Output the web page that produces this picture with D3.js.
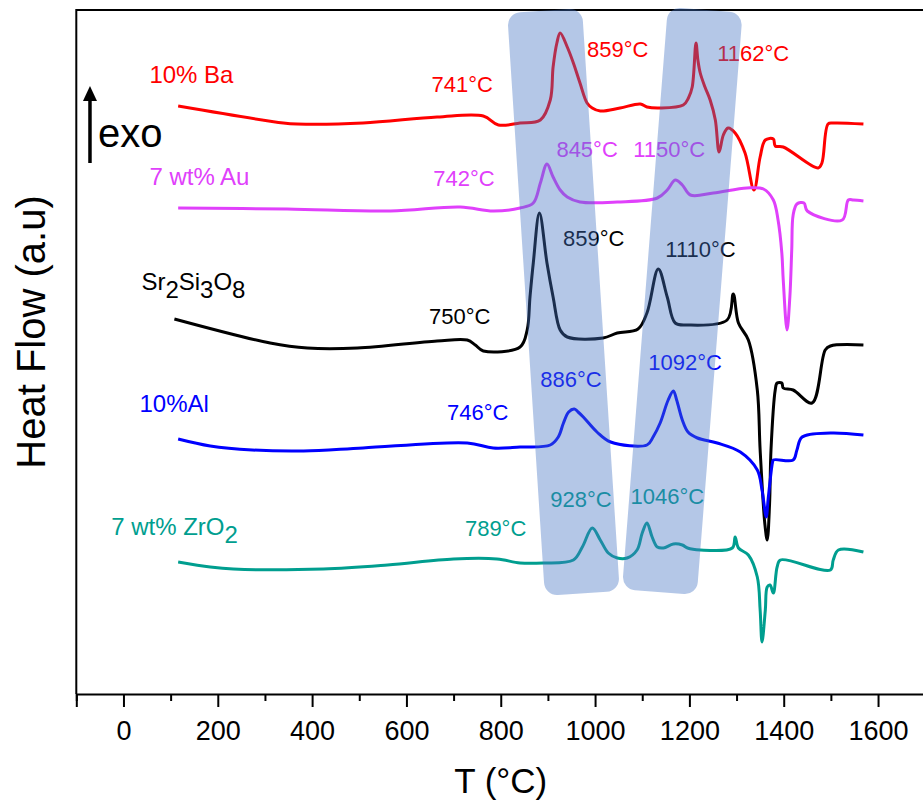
<!DOCTYPE html>
<html>
<head>
<meta charset="utf-8">
<script src="https://cdn.jsdelivr.net/npm/d3@7"></script>
<style>
  body { margin: 0; background: #fff; }
  svg { display: block; font-family: "Liberation Sans", Arial, sans-serif; }
</style>
</head>
<body>
<svg width="923" height="802"></svg>
<script>
// DSC traces: [T (°C), heat flow (a.u., stacked offsets)]
let ba = [[116,58.8],[339,57.1],[368,57.0],[508,57.1],[665,57.7],[763,57.8],[795,56.9],[841,57.1],[884,57.4],[905,59.4],[911,62.7],[919,65.1],[926,66.1],[941,64.7],[954,63.1],[968,61.1],[983,59.1],[994,58.6],[1011,58.3],[1053,58.6],[1096,59.0],[1110,58.7],[1138,58.6],[1187,58.9],[1198,59.6],[1206,60.7],[1214,65.1],[1218,63.4],[1223,62.1],[1233,60.7],[1244,59.4],[1255,57.4],[1263,54.2],[1272,55.9],[1282,56.6],[1297,56.1],[1318,54.1],[1337,50.4],[1350,53.7],[1361,55.4],[1378,55.5],[1382,54.8],[1399,54.7],[1473,52.6],[1481,53.1],[1494,57.0],[1505,57.1],[1569,57.0]];
let au = [[116,48.6],[347,48.5],[566,48.3],[714,48.7],[784,48.3],[841,48.6],[869,49.1],[884,51.1],[898,53.0],[911,51.7],[926,50.4],[941,49.7],[968,49.2],[1047,49.2],[1132,49.6],[1153,50.4],[1170,51.4],[1185,50.9],[1202,49.9],[1251,50.1],[1322,50.6],[1357,50.5],[1378,49.4],[1388,47.4],[1396,44.1],[1399,41.4],[1407,36.4],[1413,39.7],[1417,44.4],[1420,47.9],[1428,49.0],[1443,49.1],[1450,48.3],[1524,47.4],[1537,49.4],[1548,49.4],[1569,49.3]];
let sr = [[108,37.5],[311,35.1],[390,34.6],[496,34.6],[665,35.3],[729,35.4],[746,34.9],[763,34.3],[841,34.7],[856,36.4],[862,39.7],[869,43.1],[882,48.1],[898,43.1],[911,39.7],[926,36.4],[941,35.7],[1017,35.6],[1047,36.1],[1091,36.5],[1110,38.1],[1134,42.5],[1153,39.7],[1170,37.1],[1196,36.9],[1280,37.4],[1293,40.0],[1304,37.1],[1325,35.4],[1344,30.4],[1350,24.4],[1360,17.0],[1365,15.4],[1370,19.0],[1373,24.4],[1382,30.4],[1386,31.1],[1396,31.1],[1399,30.6],[1420,30.4],[1460,29.1],[1488,34.4],[1499,34.8],[1569,34.9]];
let al = [[116,25.5],[184,24.8],[273,24.4],[382,24.3],[508,24.6],[729,25.1],[784,24.6],[841,24.7],[905,24.9],[922,25.7],[933,27.1],[944,28.2],[956,28.5],[964,28.2],[975,27.7],[1004,26.2],[1033,25.2],[1110,24.9],[1123,25.7],[1138,27.1],[1155,29.4],[1166,30.3],[1173,29.4],[1185,27.4],[1197,26.2],[1217,25.6],[1259,25.1],[1308,24.2],[1344,22.4],[1354,20.4],[1363,17.7],[1367,19.5],[1376,23.1],[1378,23.4],[1420,23.4],[1428,24.4],[1439,25.7],[1499,26.1],[1569,25.9]];
let zr = [[116,13.2],[184,12.7],[233,12.5],[424,12.5],[560,12.9],[700,13.5],[792,13.5],[841,13.1],[890,13.1],[954,13.4],[973,14.7],[994,16.6],[1011,15.4],[1028,14.1],[1047,13.6],[1068,13.6],[1089,14.4],[1100,16.1],[1110,17.1],[1121,15.7],[1132,14.7],[1145,14.6],[1166,15.0],[1185,14.9],[1196,14.6],[1223,14.4],[1291,14.6],[1297,15.7],[1304,14.6],[1325,13.9],[1344,11.7],[1350,8.4],[1354,5.2],[1361,8.4],[1365,10.7],[1371,10.9],[1378,10.1],[1386,12.7],[1393,13.4],[1499,12.4],[1505,13.4],[1516,14.4],[1569,14.2]];

let seriesKeys = ["ba", "au", "sr", "al", "zr"];
let seriesData = { ba: ba, au: au, sr: sr, al: al, zr: zr };
let seriesNames = ["10% Ba", "7 wt% Au", "Sr2Si3O8", "10%Al", "7 wt% ZrO2"];
// where each sample name sits (T, a.u.)
let nameAt = [[55, 61.1], [55, 50.9], [38, 40.4], [34, 28.2], [-26, 15.9]];

// peak temperature annotations: [series, text, T, a.u.]
let tempLabels = [
  ["ba", "741°C", 653, 60.2], ["ba", "859°C", 983, 63.7], ["ba", "1162°C", 1259, 63.3],
  ["au", "742°C", 657, 50.8], ["au", "845°C", 918, 53.7], ["au", "1150°C", 1081, 53.7],
  ["sr", "750°C", 648, 37.0], ["sr", "859°C", 932, 44.8], ["sr", "1110°C", 1149, 43.7],
  ["al", "746°C", 686, 27.4], ["al", "886°C", 884, 30.7], ["al", "1092°C", 1113, 32.4],
  ["zr", "789°C", 724, 15.8], ["zr", "928°C", 905, 18.7], ["zr", "1046°C", 1075, 19.0]
];

// highlighted crystallisation windows: centre T, centre a.u., tilt (deg)
let bandT = [933, 1185];
let bandV = [39.2, 39.3];
let bandTilt = [-3.7, 4.5];

let xTicks = [0, 200, 400, 600, 800, 1000, 1200, 1400, 1600];
let xMinor = [-100, 100, 300, 500, 700, 900, 1100, 1300, 1500, 1700];

let colors = { ba: "#ff0000", au: "#e040fb", sr: "#000000", al: "#0000ff", zr: "#009e8f" };

let svg = d3.select("svg");
let x = d3.scaleLinear().domain([-100, 1700]).range([76.3, 925.2]);
let y = d3.scaleLinear().domain([0, 68.4]).range([694, 10]);

// frame (right side falls off the picture)
svg.append("path")
  .attr("d", `M${x(-100)},${y(0)}V${y(68.4)}H923`)
  .attr("fill", "none").attr("stroke", "#000").attr("stroke-width", 2);

// x axis
let xAxis = svg.append("g")
  .attr("transform", `translate(0,${y(0)})`)
  .call(d3.axisBottom(x).tickValues(xTicks).tickSize(13).tickPadding(14).tickFormat(d3.format("d")));
xAxis.select(".domain").attr("stroke-width", 2);
xAxis.selectAll(".tick line").attr("stroke-width", 2);
xAxis.selectAll(".tick text").attr("font-size", 27).attr("font-family", "Liberation Sans, Arial, sans-serif");

let xMinorAxis = svg.append("g")
  .attr("transform", `translate(0,${y(0)})`)
  .call(d3.axisBottom(x).tickValues(xMinor).tickSize(7).tickFormat(""));
xMinorAxis.select(".domain").remove();
xMinorAxis.selectAll(".tick line").attr("stroke-width", 2);

svg.append("text")
  .attr("x", x(800)).attr("y", 793)
  .attr("text-anchor", "middle").attr("font-size", 35)
  .text("T (°C)");

svg.append("text")
  .attr("transform", `translate(45,${y(34.2) - 20}) rotate(-90)`)
  .attr("text-anchor", "middle").attr("font-size", 40)
  .text("Heat Flow (a.u)");

// traces
let line = d3.line()
  .curve(d3.curveCatmullRom.alpha(0.5))
  .x(d => x(d[0]))
  .y(d => y(d[1]));

svg.append("g").selectAll("path")
  .data(seriesKeys)
  .join("path")
  .attr("d", k => line(seriesData[k]))
  .attr("fill", "none")
  .attr("stroke", k => colors[k])
  .attr("stroke-width", 3)
  .attr("stroke-linejoin", "round");

// sample names, digits after a letter become subscripts
seriesKeys.forEach((k, i) => {
  let t = svg.append("text")
    .attr("x", x(nameAt[i][0])).attr("y", y(nameAt[i][1]))
    .attr("font-size", 24).attr("fill", colors[k]);
  let parts = seriesNames[i].split(/(?<=[A-Za-z])(\d+)/);
  parts.forEach((p, j) => {
    if (!p) return;
    if (j % 2 === 1) {
      t.append("tspan").attr("dy", 8).text(p);
    } else {
      t.append("tspan").attr("dy", j > 0 ? -8 : 0).text(p);
    }
  });
});

svg.append("g").selectAll("text")
  .data(tempLabels)
  .join("text")
  .attr("x", d => x(d[2]))
  .attr("y", d => y(d[3]))
  .attr("font-size", 22)
  .attr("fill", d => colors[d[0]])
  .text(d => d[1]);

// shaded bands go over the traces
svg.append("g").selectAll("rect")
  .data(bandT)
  .join("rect")
  .attr("x", -37.5).attr("y", -292)
  .attr("width", 75).attr("height", 584)
  .attr("rx", 13)
  .attr("transform", (d, i) => `translate(${x(d)},${y(bandV[i])}) rotate(${bandTilt[i]})`)
  .attr("fill", "#4472c4")
  .attr("fill-opacity", 0.4);

// exo arrow
let ax = x(-71);
svg.append("line")
  .attr("x1", ax).attr("x2", ax)
  .attr("y1", y(53.1)).attr("y2", y(59.6))
  .attr("stroke", "#000").attr("stroke-width", 3.5);
svg.append("path")
  .attr("d", `M${ax},${y(60.8)}L${ax - 7},${y(59.3)}L${ax + 7},${y(59.3)}Z`)
  .attr("fill", "#000");
svg.append("text")
  .attr("x", x(-54)).attr("y", y(54.7))
  .attr("font-size", 40)
  .text("exo");
</script>
</body>
</html>
